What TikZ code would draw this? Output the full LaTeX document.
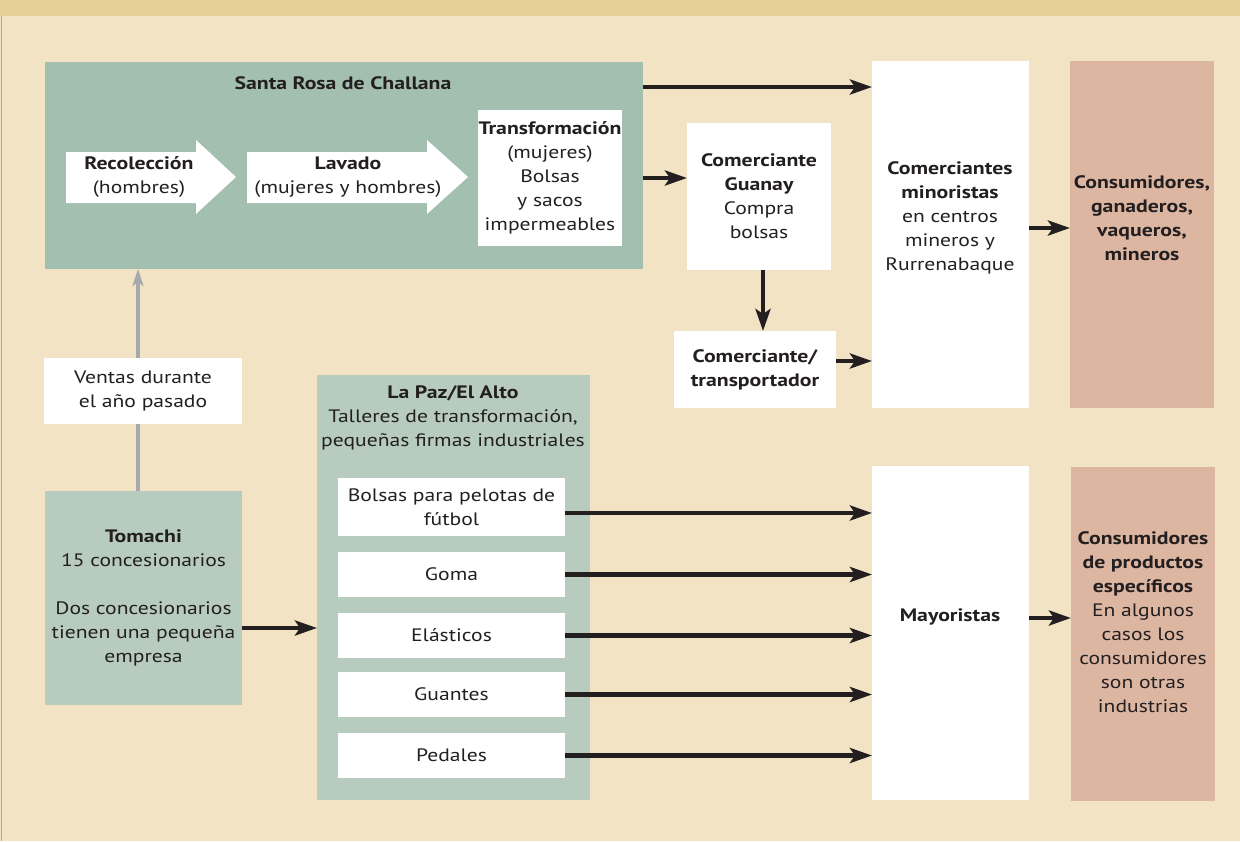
\documentclass[tikz,border=0pt]{standalone}
\usepackage{fontspec}
\setmainfont{PT Sans}[FakeStretch=1.2, BoldFeatures={FakeStretch=1.21}]
\usetikzlibrary{arrows.meta}
\definecolor{bgc}{HTML}{F2E3C4}
\definecolor{bandc}{HTML}{E8CF98}
\definecolor{goldc}{HTML}{D6A840}
\definecolor{sagedark}{HTML}{A3BFB0}
\definecolor{sagelight}{HTML}{B7CCBF}
\definecolor{pinkc}{HTML}{DDB6A2}
\definecolor{inkc}{HTML}{231F20}
\definecolor{grayarrc}{HTML}{A7A9AC}
\tikzset{
  box/.style={rectangle, inner sep=0pt, outer sep=0pt, align=center, anchor=north west},
  wbox/.style={box, fill=white},
  gbox/.style={box, fill=sagelight},
  pbox/.style={box, fill=pinkc},
  lbl/.style={align=center, inner sep=0pt},
  arr/.style={draw=inkc, line width=4.5pt, -{Stealth[length=22pt, width=15pt, inset=5pt]}},
  grayarr/.style={draw=grayarrc, line width=4pt, -{Stealth[length=17pt, width=11pt, inset=4pt]}},
  bigarrow/.style={fill=white}
}
\begin{document}
\begin{tikzpicture}[x=1pt, y=-1pt, font=\fontsize{18}{24}\selectfont, text=inkc]
\useasboundingbox (0,0) rectangle (1240,841);
\fill[bgc] (0,0) rectangle (1240,841);
\fill[bandc] (0,0) rectangle (1240,16);
\draw[goldc, line width=1.5pt] (1.5,16) -- (1.5,841);

% helper rows/columns
\coordinate (r87) at (0,87);
\coordinate (r178) at (0,178);
\coordinate (r361) at (0,361);
\coordinate (r228) at (0,228);
\coordinate (r628) at (0,628);
\coordinate (r513) at (0,513);
\coordinate (r618) at (0,618);
\coordinate (c763) at (763,0);
\coordinate (c138) at (138,0);

% Santa Rosa de Challana
\node[box, fill=sagedark, minimum width=598pt, minimum height=207pt] (santa) at (45,62) {};
\node[lbl, font=\fontsize{18}{24}\selectfont\bfseries] (santaT) at (343,83) {Santa Rosa de Challana};

\fill[bigarrow] (66,152) -- (196,152) -- (196,140) -- (236,177) -- (196,214) -- (196,203) -- (66,203) -- cycle;
\fill[bigarrow] (247,152) -- (427,152) -- (427,140) -- (468,177) -- (427,214) -- (427,203) -- (247,203) -- cycle;
\node[lbl] (reco) at (139,177) {{\bfseries Recolección}\\(hombres)};
\node[lbl] (lav) at (348,177) {{\bfseries Lavado}\\(mujeres y hombres)};
\node[wbox, minimum width=144pt, minimum height=136pt] (transf) at (478,110)
  {{\bfseries Transformación}\\(mujeres)\\Bolsas\\y sacos\\impermeables};

% right upper part
\node[wbox, minimum width=144pt, minimum height=147pt] (guanay) at (687,123)
  {{\bfseries Comerciante}\\{\bfseries Guanay}\\Compra\\bolsas};
\node[wbox, minimum width=162pt, minimum height=77pt] (transp) at (674,331)
  {{\bfseries Comerciante/}\\{\bfseries transportador}};
\node[wbox, minimum width=157pt, minimum height=347pt] (mino) at (872,61) {};
\node[lbl] (minoT) at (950,218) {{\bfseries Comerciantes}\\{\bfseries minoristas}\\en centros\\mineros y\\Rurrenabaque};
\node[pbox, minimum width=144pt, minimum height=347pt] (cons1) at (1070,61) {};
\node[lbl, font=\fontsize{18}{24}\selectfont\bfseries] (cons1T) at (1142,218) {Consumidores,\\ganaderos,\\vaqueros,\\mineros};

% Tomachi and sales
\node[gbox, minimum width=197pt, minimum height=214pt] (tomachi) at (45,491)
  {{\bfseries Tomachi}\\15 concesionarios\\[24pt]Dos concesionarios\\tienen una pequeña\\empresa};
\draw[grayarr] (tomachi.north -| c138) -- (santa.south -| c138);
\node[wbox, minimum width=198pt, minimum height=66pt] (ventas) at (44,358) {Ventas durante\\el año pasado};

% La Paz / El Alto
\node[gbox, minimum width=273pt, minimum height=425pt] (lapaz) at (317,375) {};
\node[lbl] (lapazT) at (453,418) {{\bfseries La Paz/El Alto}\\Talleres de transformación,\\pequeñas firmas industriales};
\node[wbox, minimum width=227pt, minimum height=58pt] (bolsas) at (338,478) {Bolsas para pelotas de\\fútbol};
\node[wbox, minimum width=227pt, minimum height=45pt] (goma) at (338,552) {Goma};
\node[wbox, minimum width=227pt, minimum height=45pt] (elast) at (338,613) {Elásticos};
\node[wbox, minimum width=227pt, minimum height=45pt] (guantes) at (338,672) {Guantes};
\node[wbox, minimum width=227pt, minimum height=45pt] (pedales) at (338,733) {Pedales};

% lower right
\node[wbox, minimum width=157pt, minimum height=334pt] (may) at (872,466) {};
\node[lbl, font=\fontsize{18}{24}\selectfont\bfseries] (mayT) at (950,617) {Mayoristas};
\node[pbox, minimum width=144pt, minimum height=334pt] (cons2) at (1071,467) {};
\node[lbl] (cons2T) at (1143,622) {{\bfseries Consumidores}\\{\bfseries de productos}\\{\bfseries específicos}\\En algunos\\casos los\\consumidores\\son otras\\industrias};

% connectors
\draw[arr] (santa.east |- r87) -- (mino.west |- r87);
\draw[arr] (santa.east |- r178) -- (guanay.west |- r178);
\draw[arr] (guanay.south -| c763) -- (transp.north -| c763);
\draw[arr] (transp.east |- r361) -- (mino.west |- r361);
\draw[arr] (mino.east |- r228) -- (cons1.west |- r228);
\draw[arr] (tomachi.east |- r628) -- (lapaz.west |- r628);
\draw[arr] (bolsas.east |- r513) -- (may.west |- r513);
\draw[arr] (goma.east) -- (may.west |- goma.east);
\draw[arr] (elast.east) -- (may.west |- elast.east);
\draw[arr] (guantes.east) -- (may.west |- guantes.east);
\draw[arr] (pedales.east) -- (may.west |- pedales.east);
\draw[arr] (may.east |- r618) -- (cons2.west |- r618);
\end{tikzpicture}
\end{document}
